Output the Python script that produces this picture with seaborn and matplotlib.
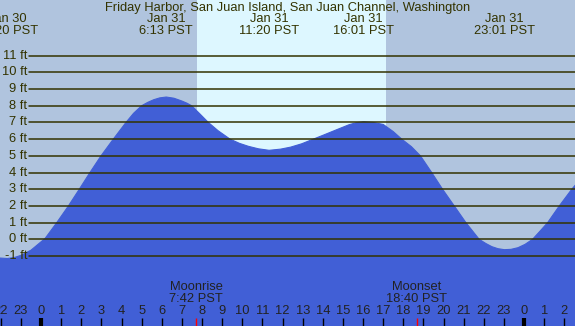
import matplotlib
matplotlib.use("Agg")
import matplotlib.pyplot as plt
import numpy as np
import pandas as pd
import seaborn as sns

# tide curve: hours from midnight Jan 31 (negative = Jan 30), height in ft
HOURS = [-2.04, -1.67, -1.3, -1.0, -0.5, -0.15, 0.2, 0.78, 1.36, 1.90, 2.43, 2.98,
         3.59, 4.22, 4.6, 5.0, 5.3, 5.6, 5.9, 6.22, 6.6, 7.0, 7.25, 7.48, 7.9,
         8.31, 8.8, 9.39, 9.85, 10.3, 10.8, 11.33, 11.9, 12.4, 12.95, 13.53, 14.05,
         14.6, 15.3, 15.65, 16.02, 16.5, 17.0, 17.5, 17.92, 18.4, 18.85, 19.41,
         19.95, 20.53, 21.11, 21.77, 22.1, 22.4, 22.7, 23.02, 23.35, 23.7, 24.05,
         24.42, 24.8, 25.17, 25.75, 26.37, 26.55]
HEIGHT_FT = [-1.12, -1.15, -1.08, -0.96, -0.65, -0.3, 0.05, 1.0, 2.0, 3.0, 4.0, 5.0,
             6.0, 7.0, 7.55, 8.0, 8.2, 8.36, 8.47, 8.52, 8.45, 8.28, 8.15, 8.0, 7.5,
             7.0, 6.5, 6.0, 5.75, 5.57, 5.42, 5.33, 5.4, 5.52, 5.72, 6.0, 6.25,
             6.52, 6.86, 6.98, 7.04, 7.0, 6.88, 6.45, 6.0, 5.55, 5.0, 4.0,
             3.0, 2.0, 1.0, 0.0, -0.25, -0.44, -0.56, -0.62, -0.6, -0.5, -0.3,
             0.0, 0.5, 1.0, 2.0, 3.0, 3.25]

# high / low tide labels across the top
EVENT_HOURS = [-1.67, 6.22, 11.33, 16.02, 23.02]
EVENT_DAYS = ["Jan 30", "Jan 31", "Jan 31", "Jan 31", "Jan 31"]
EVENT_TIMES = ["22:20 PST", "6:13 PST", "11:20 PST", "16:01 PST", "23:01 PST"]

SUNRISE, SUNSET = 7.73, 17.14
MOON_HOURS = [7.7, 18.67]
MOON_NAMES = ["Moonrise", "Moonset"]
MOON_TIMES = ["7:42 PST", "18:40 PST"]

FT_LEVELS = list(range(-1, 12))
HOUR_TICKS = list(range(-2, 27))

TITLE = "Friday Harbor, San Juan Island, San Juan Channel, Washington"

NIGHT = "#b0c4de"
DAY = "#ddf7ff"
WATER = "#415fd6"
INK = "#333300"
FS = 9.3

sns.set_theme(style="white")
plt.rcParams["font.family"] = ["Liberation Sans", "DejaVu Sans"]

tide = pd.DataFrame({"hour": HOURS, "ft": HEIGHT_FT})

fig = plt.figure(figsize=(5.75, 3.26), dpi=100)
ax = fig.add_axes([0, 0, 1, 1])
ax.set_facecolor(NIGHT)
ax.set_xlim(-2.04, 26.53)
ax.set_ylim(-5.19, 14.33)
ax.axvspan(SUNRISE, SUNSET, color=DAY, lw=0, zorder=0)

ax.fill_between(tide["hour"], tide["ft"], -10, color=WATER, lw=0, zorder=1)
sns.lineplot(data=tide, x="hour", y="ft", ax=ax, color=WATER, lw=0.8, zorder=1)

for lvl in FT_LEVELS:
    ax.axhline(lvl, xmin=29 / 575, xmax=1, color=INK, lw=1.1, zorder=2)
    ax.text(-0.68, lvl, f"{lvl} ft", ha="right", va="center", fontsize=FS, color=INK)

# hour ticks along the bottom edge
xt = ax.get_xaxis_transform()
tick_h = 8 / 326
for h in HOUR_TICKS:
    midnight = h % 24 == 0
    ax.plot([h, h], [0, tick_h], transform=xt, color="black",
            lw=3 if midnight else 1, solid_capstyle="butt", zorder=3)
    ax.text(h, 14.5 / 326, str(h % 24), transform=xt, ha="center", va="center",
            fontsize=FS, color="#222222")
for mh in MOON_HOURS:
    ax.plot([mh, mh], [0, tick_h], transform=xt, color="red", lw=1,
            solid_capstyle="butt", zorder=3)

for mh, name, t in zip(MOON_HOURS, MOON_NAMES, MOON_TIMES):
    ax.text(mh, 1 - 287 / 326, name, transform=xt, ha="center", va="center",
            fontsize=FS, color="#222222")
    ax.text(mh, 1 - 299.5 / 326, t, transform=xt, ha="center", va="center",
            fontsize=FS, color="#222222")

for eh, d, t in zip(EVENT_HOURS, EVENT_DAYS, EVENT_TIMES):
    ax.text(eh, 1 - 19 / 326, d, transform=xt, ha="center", va="center",
            fontsize=FS, color=INK)
    ax.text(eh, 1 - 31.5 / 326, t, transform=xt, ha="center", va="center",
            fontsize=FS, color=INK)

fig.text(0.5, 1 - 7.5 / 326, TITLE, ha="center", va="center", fontsize=FS, color=INK)

ax.set_xlabel("")
ax.set_ylabel("")
ax.set_xticks([])
ax.set_yticks([])
for s in ax.spines.values():
    s.set_visible(False)

fig.savefig("out.png", dpi=100)
